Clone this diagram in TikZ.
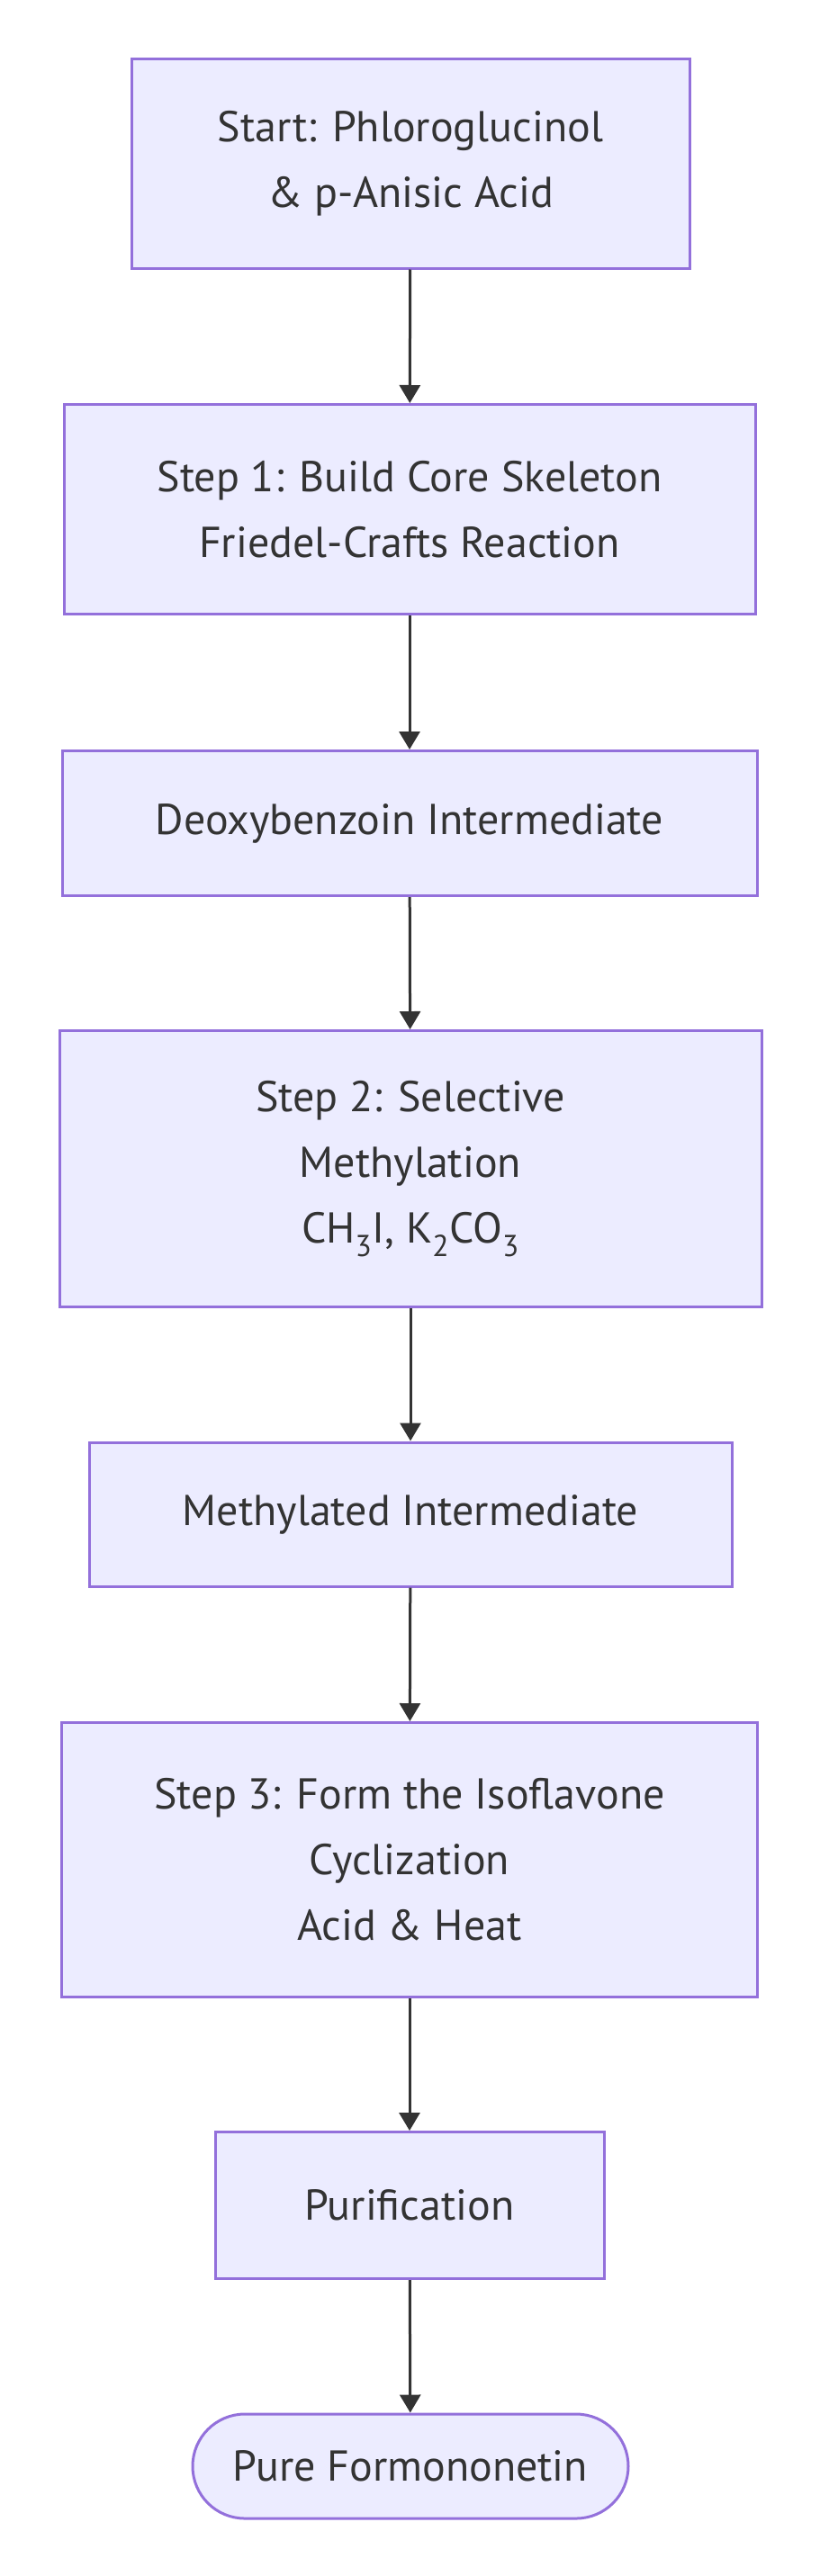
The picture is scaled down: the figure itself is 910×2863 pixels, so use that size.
\documentclass[tikz,border=0pt]{standalone}
\usepackage{fontspec}
\setmainfont{PT Sans}
\usetikzlibrary{arrows.meta}
\definecolor{boxfill}{HTML}{ECECFF}
\definecolor{boxline}{HTML}{9370DB}
\definecolor{inkgray}{HTML}{333333}

\begin{document}
\begin{tikzpicture}[x=1pt, y=1pt, >={Triangle[length=20pt,width=23pt]},
  every node/.style={font=\fontsize{48}{73}\selectfont, text=inkgray},
  stepbox/.style={draw=boxline, fill=boxfill, line width=3pt, rectangle, align=center, inner sep=0pt},
  endbox/.style={stepbox, rounded corners=58pt},
  flow/.style={->, draw=inkgray, line width=3pt}]
\useasboundingbox (0,0) rectangle (910,-2863);
\node[stepbox, minimum width=620pt, minimum height=232pt] (start) at (456,-182) {Start: Phloroglucinol\\\& p-Anisic Acid};
\node[stepbox, minimum width=768pt, minimum height=233pt] (step1) at (455,-566) {Step 1: Build Core Skeleton\\Friedel-Crafts Reaction};
\node[stepbox, minimum width=772pt, minimum height=161pt] (deoxy) at (455,-915) {Deoxybenzoin Intermediate};
\node[stepbox, minimum width=780pt, minimum height=307pt] (step2) at (456,-1299) {Step 2: Selective\\Methylation\\CH\textsubscript{3}I, K\textsubscript{2}CO\textsubscript{3}};
\node[stepbox, minimum width=714pt, minimum height=160pt] (methyl) at (456,-1683) {Methylated Intermediate};
\node[stepbox, minimum width=773pt, minimum height=305pt] (step3) at (455,-2067) {Step 3: Form the Isoflavone\\Cyclization\\Acid \& Heat};
\node[stepbox, minimum width=432pt, minimum height=163pt] (purif) at (455,-2451) {Purification};
\node[endbox, minimum width=484pt, minimum height=116pt] (pure) at (456,-2741) {Pure Formononetin};
\draw[flow] (start) -- (step1);
\draw[flow] (step1) -- (deoxy);
\draw[flow] (deoxy) -- (step2);
\draw[flow] (step2) -- (methyl);
\draw[flow] (methyl) -- (step3);
\draw[flow] (step3) -- (purif);
\draw[flow] (purif) -- (pure);
\end{tikzpicture}
\end{document}
